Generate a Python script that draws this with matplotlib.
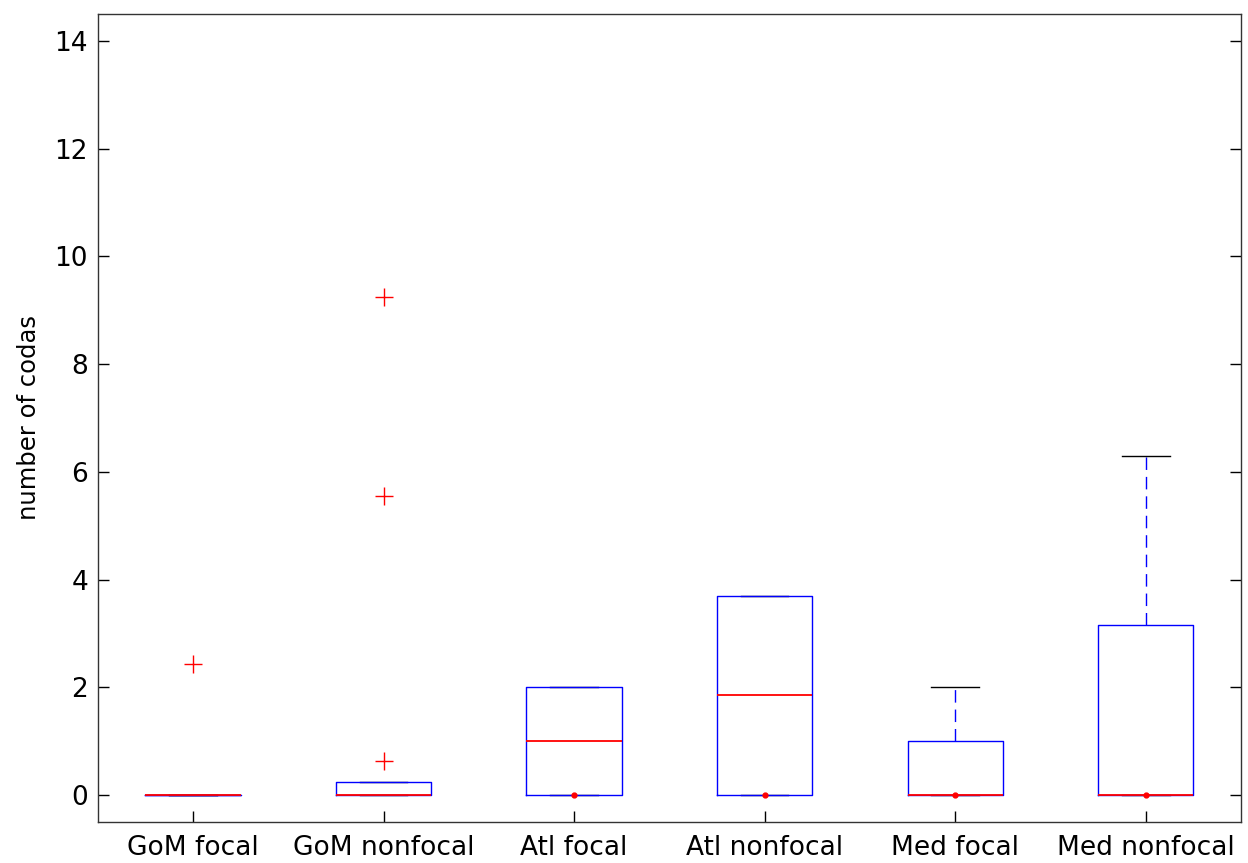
"""
Boxplot of coda counts per region / focal status (MATLAB style).
"""

import matplotlib
matplotlib.use("Agg")
import matplotlib.pyplot as plt

# Data
groups = ["GoM focal", "GoM nonfocal", "Atl focal", "Atl nonfocal", "Med focal", "Med nonfocal"]
q1 = [0, 0, 0, 0, 0, 0]
median = [0, 0, 1.0, 1.85, 0, 0]
q3 = [0, 0.25, 2.0, 3.7, 1.0, 3.15]
whisker_low = [0, 0, 0, 0, 0, 0]
whisker_high = [0, 0.25, 2.0, 3.7, 2.0, 6.3]
outliers = [[2.43], [9.25, 5.55, 0.63], [], [], [], []]
# small red dot drawn at zero for some groups
dot_values = [None, None, 0, 0, 0, 0]

stats = []
for i, name in enumerate(groups):
    stats.append({
        "label": name,
        "q1": q1[i],
        "med": median[i],
        "q3": q3[i],
        "whislo": whisker_low[i],
        "whishi": whisker_high[i],
        "fliers": outliers[i],
    })

fig = plt.figure(figsize=(12.48, 8.63), dpi=100)
ax = fig.add_axes([0.0783, 0.0475, 0.9161, 0.9363])

positions = list(range(1, len(groups) + 1))
ax.bxp(
    stats,
    positions=positions,
    widths=0.5,
    showfliers=True,
    boxprops=dict(color="blue", linewidth=1.0, zorder=3),
    whiskerprops=dict(color="blue", linewidth=1.0, linestyle=(0, (9, 5)), zorder=2),
    capprops=dict(color="black", linewidth=1.0, zorder=2),
    medianprops=dict(color="red", linewidth=1.3, zorder=4),
    flierprops=dict(marker="+", markeredgecolor="red", markersize=13,
                    markeredgewidth=1.0, linestyle="none"),
    capwidths=0.25,
)

# red dots at zero
for pos, val in zip(positions, dot_values):
    if val is not None:
        ax.plot(pos, val, marker="o", color="red", markersize=3.5, zorder=5)

ax.set_xlim(0.5, 6.5)
ax.set_ylim(-0.5, 14.5)
ax.set_yticks([0, 2, 4, 6, 8, 10, 12, 14])
ax.set_xticks(positions)
ax.set_xticklabels(groups)

ax.tick_params(direction="in", length=8, width=1, labelsize=19,
               top=True, right=True, pad=7, colors="black")
ax.tick_params(axis="x", top=False, pad=9)
for spine in ax.spines.values():
    spine.set_linewidth(1.0)
    spine.set_color("#333333")

ax.set_ylabel("number of codas", fontsize=17.5, labelpad=10)

fig.savefig("out.png", dpi=100)
